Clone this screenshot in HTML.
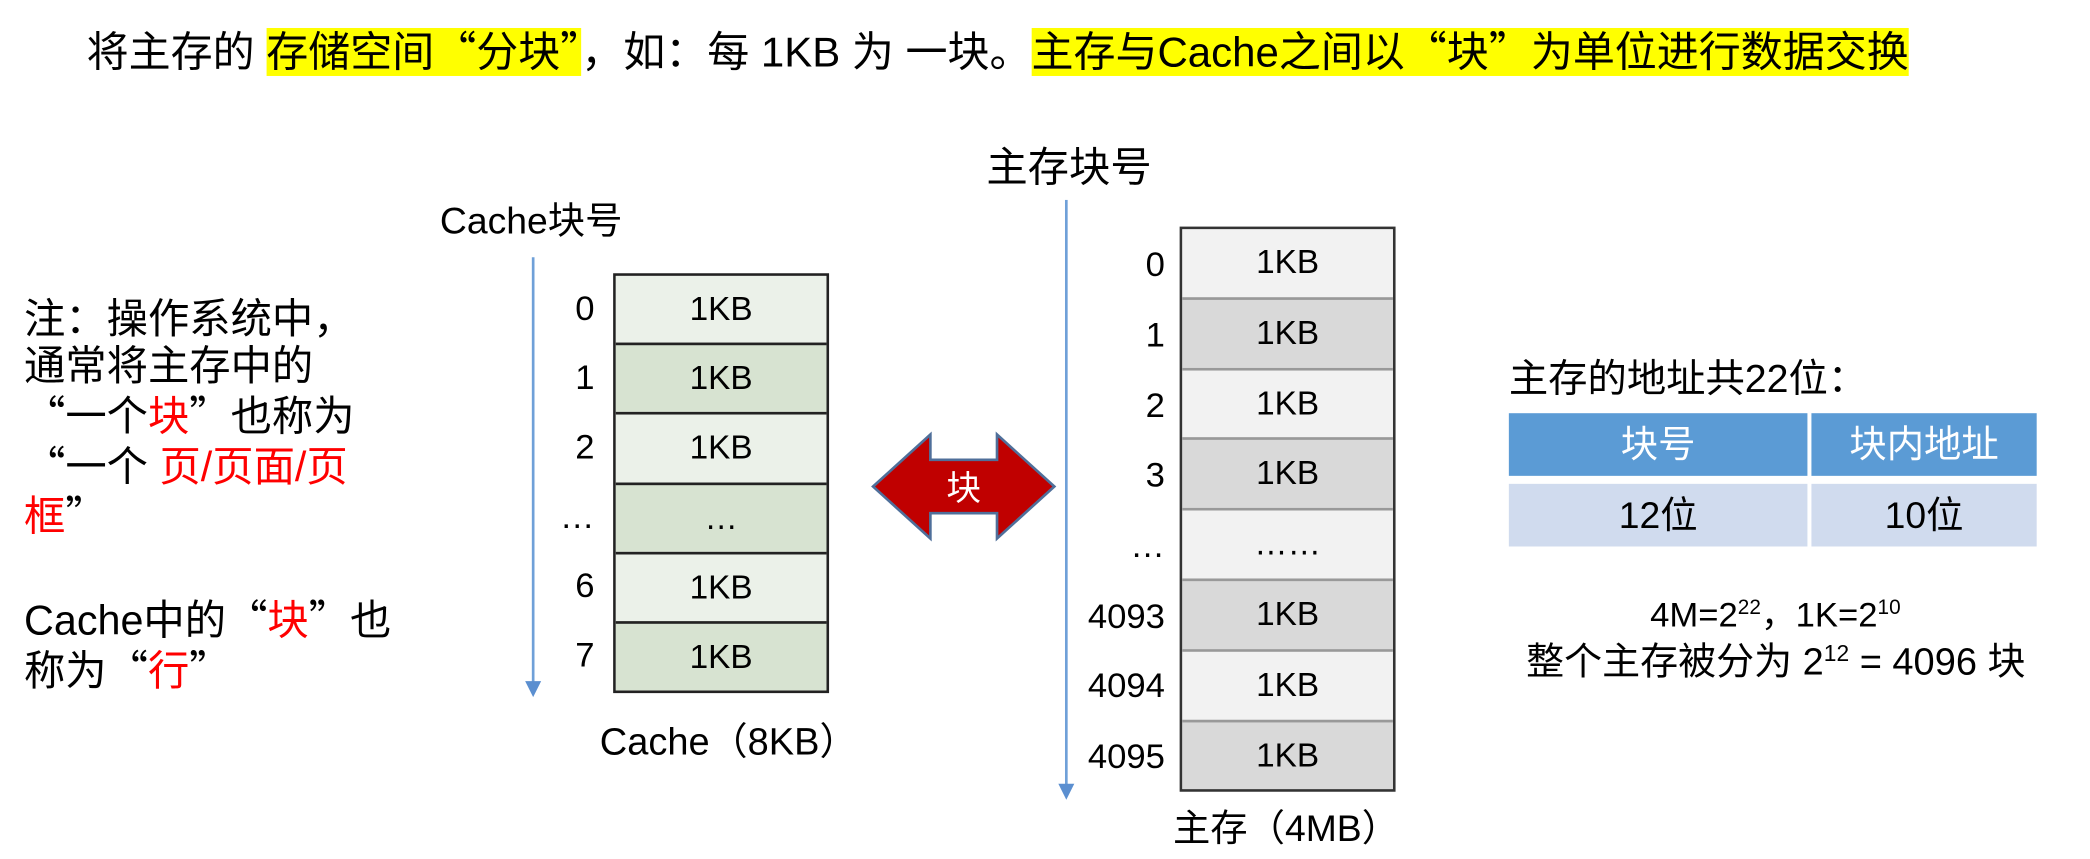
<!DOCTYPE html>
<html><head><meta charset="utf-8"><style>
html,body{margin:0;padding:0;background:#fff;width:2090px;height:859px;overflow:hidden}
#s{position:absolute;left:0;top:0;width:1568px;height:644px;transform:scale(1.33291);transform-origin:0 0;font-family:"Liberation Sans","Noto Sans CJK SC",sans-serif;color:#000}
.a{position:absolute;white-space:nowrap}
.hl{background:#ffff00}
.red{color:#ff0000}
.q{font-family:"Noto Sans CJK SC",sans-serif}
.cb{position:absolute;left:460px;width:158px;border:2px solid #222;}
.cb div{height:50.2px;border-top:2px solid #222;text-align:center;line-height:50px;font-size:25px}
.cb div:first-child{border-top:none}
.mb{position:absolute;left:885px;width:158px;border:2px solid #333;}
.mb div{height:50.8px;border-top:2px solid #999;text-align:center;line-height:50px;font-size:25px}
.mb div:first-child{border-top:none}
.lbl{position:absolute;text-align:right;font-size:26px;width:70px}
sup{font-size:60%;vertical-align:0.6em;line-height:0}
</style></head><body><div id="s">
<div class="a" style="left:65px;top:17px;font-size:31.5px;line-height:40px">将主存的 <span class="hl">存储空间<span class="q">“</span>分块<span class="q">”</span></span>，如：每 1KB 为 一块。<span class="hl">主存与Cache之间以<span class="q">“</span>块<span class="q">”</span>为单位进行数据交换</span></div>

<div class="a" style="left:18px;top:219px;font-size:31px;line-height:35px"><span class="q">注：</span>操作系统中，<br>通常将主存中的<br><span class="q">“</span>一个<span class="red">块</span><span class="q">”</span>也称为<br><span class="q">“</span>一个 <span class="red">页/页面/页</span></div>
<div class="a" style="left:18px;top:367px;font-size:31px;line-height:35px"><span class="red">框</span><span class="q">”</span></div>
<div class="a" style="left:18px;top:445px;font-size:31px;line-height:35px">Cache中的<span class="q">“</span><span class="red">块</span><span class="q">”</span>也<br>称为<span class="q">“</span><span class="red">行</span><span class="q">”</span></div>

<div class="a" style="left:330px;top:144px;font-size:28px">Cache块号</div>
<div class="a" style="left:399px;top:193px;width:1.5px;height:320px;background:#6fa0d8"></div>
<div class="a" style="left:394px;top:511px;width:0;height:0;border-left:6px solid transparent;border-right:6px solid transparent;border-top:12px solid #5b8fd0"></div>
<div class="cb" style="top:205px">
<div style="background:#ebf1e9">1KB</div><div style="background:#d7e3d1">1KB</div><div style="background:#ebf1e9">1KB</div><div style="background:#d7e3d1">…</div><div style="background:#ebf1e9">1KB</div><div style="background:#d7e3d1">1KB</div>
</div>
<div class="lbl" style="left:376px;top:216px">0</div>
<div class="lbl" style="left:376px;top:268px">1</div>
<div class="lbl" style="left:376px;top:320px">2</div>
<div class="lbl" style="left:376px;top:372px">…</div>
<div class="lbl" style="left:376px;top:424px">6</div>
<div class="lbl" style="left:376px;top:476px">7</div>
<div class="a" style="left:450px;top:534px;font-size:28.5px">Cache<span class="q">（</span>8KB<span class="q">）</span></div>

<svg class="a" style="left:650px;top:320px" width="145" height="90"><polygon points="5,45 48,6 48,25 98,25 98,6 141,45 98,84 98,65 48,65 48,84" fill="#c00000" stroke="#4f6f9a" stroke-width="2"/><text x="73" y="55" font-size="26" fill="#fff" text-anchor="middle" font-family="Noto Sans CJK SC,sans-serif">块</text></svg>

<div class="a" style="left:740px;top:100px;font-size:31px">主存块号</div>
<div class="a" style="left:799px;top:150px;width:1.5px;height:440px;background:#6fa0d8"></div>
<div class="a" style="left:794px;top:588px;width:0;height:0;border-left:6px solid transparent;border-right:6px solid transparent;border-top:12px solid #5b8fd0"></div>
<div class="mb" style="top:170px">
<div style="background:#f2f2f2">1KB</div><div style="background:#d9d9d9">1KB</div><div style="background:#f2f2f2">1KB</div><div style="background:#d9d9d9">1KB</div><div style="background:#f2f2f2">……</div><div style="background:#d9d9d9">1KB</div><div style="background:#f2f2f2">1KB</div><div style="background:#d9d9d9">1KB</div>
</div>
<div class="lbl" style="left:804px;top:183px">0</div>
<div class="lbl" style="left:804px;top:236px">1</div>
<div class="lbl" style="left:804px;top:289px">2</div>
<div class="lbl" style="left:804px;top:341px">3</div>
<div class="lbl" style="left:804px;top:394px">…</div>
<div class="lbl" style="left:804px;top:447px">4093</div>
<div class="lbl" style="left:804px;top:499px">4094</div>
<div class="lbl" style="left:804px;top:552px">4095</div>
<div class="a" style="left:880px;top:600px;font-size:28px">主存<span class="q">（</span>4MB<span class="q">）</span></div>

<div class="a" style="left:1132px;top:261px;font-size:29.5px">主存的地址共22位<span class="q">：</span></div>
<div class="a" style="left:1132px;top:310px;width:224px;height:47px;background:#5b9bd5;color:#fff;font-size:28px;text-align:center;line-height:47px">块号</div>
<div class="a" style="left:1359px;top:310px;width:169px;height:47px;background:#5b9bd5;color:#fff;font-size:28px;text-align:center;line-height:47px">块内地址</div>
<div class="a" style="left:1132px;top:363px;width:224px;height:47px;background:#d0dbee;font-size:28px;text-align:center;line-height:47px">12位</div>
<div class="a" style="left:1359px;top:363px;width:169px;height:47px;background:#d0dbee;font-size:28px;text-align:center;line-height:47px">10位</div>
<div class="a" style="left:1238px;top:441px;font-size:26px">4M=2<sup>22</sup>，1K=2<sup>10</sup></div>
<div class="a" style="left:1145px;top:474px;font-size:28.5px">整个主存被分为 2<sup>12</sup> = 4096 块</div>
</div></body></html>
